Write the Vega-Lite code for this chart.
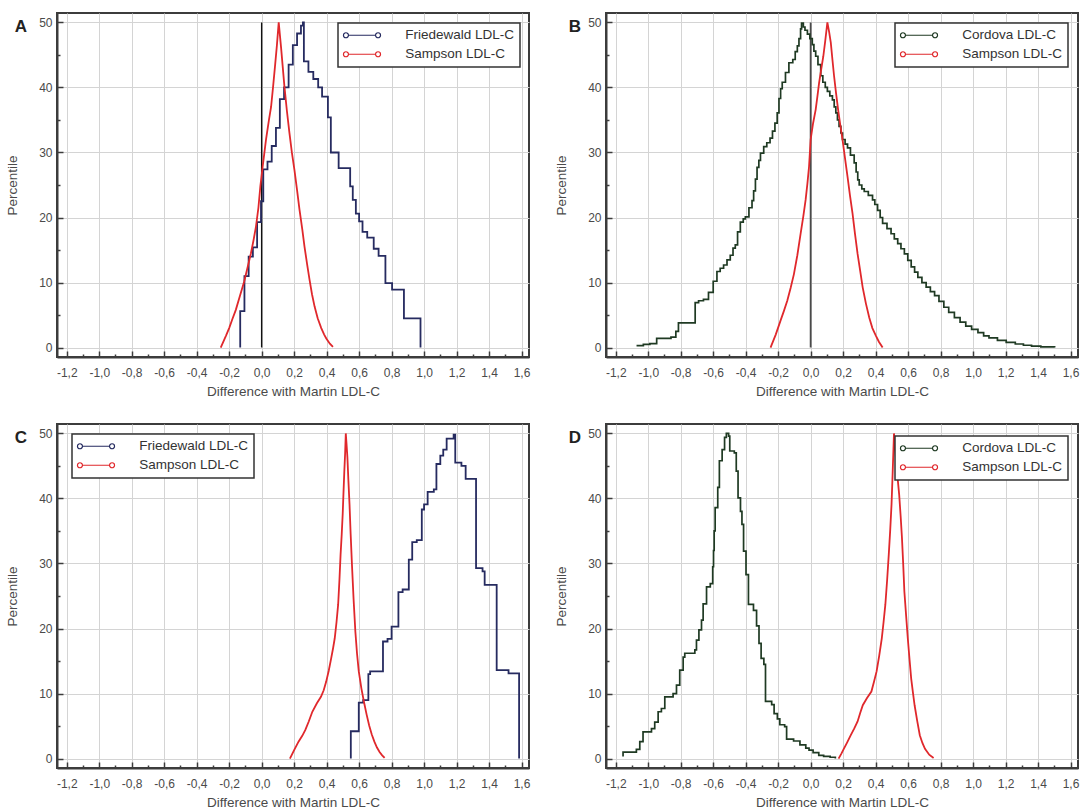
{
  "$schema": "https://vega.github.io/schema/vega-lite/v6.json",
  "background": "white",
  "padding": {"left": 4, "top": 12, "right": 0, "bottom": 0},
  "columns": 2,
  "bounds": "flush",
  "spacing": {"row": 67, "column": 77},
  "datasets": {
    "A_Friedewald": [
      {"Method": "Friedewald LDL-C", "Difference": -0.132, "Percentile": 0},
      {"Method": "Friedewald LDL-C", "Difference": -0.132, "Percentile": 5.6},
      {"Method": "Friedewald LDL-C", "Difference": -0.106, "Percentile": 11.0},
      {"Method": "Friedewald LDL-C", "Difference": -0.080, "Percentile": 14.0},
      {"Method": "Friedewald LDL-C", "Difference": -0.054, "Percentile": 15.4},
      {"Method": "Friedewald LDL-C", "Difference": -0.028, "Percentile": 19.3},
      {"Method": "Friedewald LDL-C", "Difference": -0.004, "Percentile": 22.5},
      {"Method": "Friedewald LDL-C", "Difference": 0.010, "Percentile": 27.4},
      {"Method": "Friedewald LDL-C", "Difference": 0.036, "Percentile": 28.6},
      {"Method": "Friedewald LDL-C", "Difference": 0.062, "Percentile": 31.0},
      {"Method": "Friedewald LDL-C", "Difference": 0.088, "Percentile": 33.8},
      {"Method": "Friedewald LDL-C", "Difference": 0.112, "Percentile": 38.2},
      {"Method": "Friedewald LDL-C", "Difference": 0.138, "Percentile": 40.0},
      {"Method": "Friedewald LDL-C", "Difference": 0.166, "Percentile": 43.5},
      {"Method": "Friedewald LDL-C", "Difference": 0.192, "Percentile": 46.5},
      {"Method": "Friedewald LDL-C", "Difference": 0.218, "Percentile": 48.3},
      {"Method": "Friedewald LDL-C", "Difference": 0.242, "Percentile": 49.5},
      {"Method": "Friedewald LDL-C", "Difference": 0.254, "Percentile": 50.0},
      {"Method": "Friedewald LDL-C", "Difference": 0.260, "Percentile": 44.0},
      {"Method": "Friedewald LDL-C", "Difference": 0.288, "Percentile": 42.4},
      {"Method": "Friedewald LDL-C", "Difference": 0.318, "Percentile": 41.3},
      {"Method": "Friedewald LDL-C", "Difference": 0.348, "Percentile": 40.0},
      {"Method": "Friedewald LDL-C", "Difference": 0.372, "Percentile": 38.6},
      {"Method": "Friedewald LDL-C", "Difference": 0.408, "Percentile": 35.4},
      {"Method": "Friedewald LDL-C", "Difference": 0.426, "Percentile": 30.0},
      {"Method": "Friedewald LDL-C", "Difference": 0.474, "Percentile": 27.6},
      {"Method": "Friedewald LDL-C", "Difference": 0.545, "Percentile": 24.8},
      {"Method": "Friedewald LDL-C", "Difference": 0.561, "Percentile": 22.7},
      {"Method": "Friedewald LDL-C", "Difference": 0.580, "Percentile": 20.6},
      {"Method": "Friedewald LDL-C", "Difference": 0.600, "Percentile": 19.4},
      {"Method": "Friedewald LDL-C", "Difference": 0.621, "Percentile": 17.8},
      {"Method": "Friedewald LDL-C", "Difference": 0.650, "Percentile": 16.9},
      {"Method": "Friedewald LDL-C", "Difference": 0.690, "Percentile": 15.2},
      {"Method": "Friedewald LDL-C", "Difference": 0.720, "Percentile": 14.1},
      {"Method": "Friedewald LDL-C", "Difference": 0.762, "Percentile": 9.9},
      {"Method": "Friedewald LDL-C", "Difference": 0.803, "Percentile": 8.9},
      {"Method": "Friedewald LDL-C", "Difference": 0.876, "Percentile": 4.5},
      {"Method": "Friedewald LDL-C", "Difference": 0.978, "Percentile": 0}
    ],
    "A_Sampson": [
      {"Method": "Sampson LDL-C", "Difference": -0.252, "Percentile": 0},
      {"Method": "Sampson LDL-C", "Difference": -0.22, "Percentile": 1.8},
      {"Method": "Sampson LDL-C", "Difference": -0.2, "Percentile": 3.0},
      {"Method": "Sampson LDL-C", "Difference": -0.18, "Percentile": 4.4},
      {"Method": "Sampson LDL-C", "Difference": -0.159, "Percentile": 5.8},
      {"Method": "Sampson LDL-C", "Difference": -0.133, "Percentile": 8.0},
      {"Method": "Sampson LDL-C", "Difference": -0.107, "Percentile": 10.2},
      {"Method": "Sampson LDL-C", "Difference": -0.085, "Percentile": 12.5},
      {"Method": "Sampson LDL-C", "Difference": -0.066, "Percentile": 14.5},
      {"Method": "Sampson LDL-C", "Difference": -0.05, "Percentile": 16.5},
      {"Method": "Sampson LDL-C", "Difference": -0.035, "Percentile": 18.6},
      {"Method": "Sampson LDL-C", "Difference": -0.02, "Percentile": 21.5},
      {"Method": "Sampson LDL-C", "Difference": -0.008, "Percentile": 24.8},
      {"Method": "Sampson LDL-C", "Difference": 0.006, "Percentile": 27.8},
      {"Method": "Sampson LDL-C", "Difference": 0.027, "Percentile": 32.0},
      {"Method": "Sampson LDL-C", "Difference": 0.045, "Percentile": 35.0},
      {"Method": "Sampson LDL-C", "Difference": 0.058, "Percentile": 37.0},
      {"Method": "Sampson LDL-C", "Difference": 0.07, "Percentile": 40.0},
      {"Method": "Sampson LDL-C", "Difference": 0.082, "Percentile": 43.2},
      {"Method": "Sampson LDL-C", "Difference": 0.094, "Percentile": 46.5},
      {"Method": "Sampson LDL-C", "Difference": 0.105, "Percentile": 50.0},
      {"Method": "Sampson LDL-C", "Difference": 0.12, "Percentile": 46.0},
      {"Method": "Sampson LDL-C", "Difference": 0.14, "Percentile": 40.2},
      {"Method": "Sampson LDL-C", "Difference": 0.155, "Percentile": 36.5},
      {"Method": "Sampson LDL-C", "Difference": 0.171, "Percentile": 33.0},
      {"Method": "Sampson LDL-C", "Difference": 0.186, "Percentile": 30.0},
      {"Method": "Sampson LDL-C", "Difference": 0.202, "Percentile": 27.3},
      {"Method": "Sampson LDL-C", "Difference": 0.218, "Percentile": 24.2},
      {"Method": "Sampson LDL-C", "Difference": 0.233, "Percentile": 21.2},
      {"Method": "Sampson LDL-C", "Difference": 0.25, "Percentile": 18.2},
      {"Method": "Sampson LDL-C", "Difference": 0.264, "Percentile": 15.5},
      {"Method": "Sampson LDL-C", "Difference": 0.28, "Percentile": 12.8},
      {"Method": "Sampson LDL-C", "Difference": 0.295, "Percentile": 10.4},
      {"Method": "Sampson LDL-C", "Difference": 0.31, "Percentile": 8.2},
      {"Method": "Sampson LDL-C", "Difference": 0.326, "Percentile": 6.3},
      {"Method": "Sampson LDL-C", "Difference": 0.345, "Percentile": 4.5},
      {"Method": "Sampson LDL-C", "Difference": 0.367, "Percentile": 3.0},
      {"Method": "Sampson LDL-C", "Difference": 0.385, "Percentile": 2.0},
      {"Method": "Sampson LDL-C", "Difference": 0.398, "Percentile": 1.4},
      {"Method": "Sampson LDL-C", "Difference": 0.42, "Percentile": 0.6},
      {"Method": "Sampson LDL-C", "Difference": 0.439, "Percentile": 0.1}
    ],
    "B_Cordova": [
      {"Method": "Cordova LDL-C", "Difference": -1.072, "Percentile": 0.3},
      {"Method": "Cordova LDL-C", "Difference": -1.03, "Percentile": 0.5},
      {"Method": "Cordova LDL-C", "Difference": -0.99, "Percentile": 0.6},
      {"Method": "Cordova LDL-C", "Difference": -0.948, "Percentile": 1.4},
      {"Method": "Cordova LDL-C", "Difference": -0.86, "Percentile": 1.6},
      {"Method": "Cordova LDL-C", "Difference": -0.83, "Percentile": 2.5},
      {"Method": "Cordova LDL-C", "Difference": -0.814, "Percentile": 3.8},
      {"Method": "Cordova LDL-C", "Difference": -0.711, "Percentile": 6.9},
      {"Method": "Cordova LDL-C", "Difference": -0.69, "Percentile": 7.2},
      {"Method": "Cordova LDL-C", "Difference": -0.66, "Percentile": 7.4},
      {"Method": "Cordova LDL-C", "Difference": -0.629, "Percentile": 8.5},
      {"Method": "Cordova LDL-C", "Difference": -0.6, "Percentile": 10.2},
      {"Method": "Cordova LDL-C", "Difference": -0.577, "Percentile": 11.7},
      {"Method": "Cordova LDL-C", "Difference": -0.557, "Percentile": 12.2},
      {"Method": "Cordova LDL-C", "Difference": -0.536, "Percentile": 12.7},
      {"Method": "Cordova LDL-C", "Difference": -0.515, "Percentile": 13.5},
      {"Method": "Cordova LDL-C", "Difference": -0.495, "Percentile": 14.2},
      {"Method": "Cordova LDL-C", "Difference": -0.478, "Percentile": 15.3},
      {"Method": "Cordova LDL-C", "Difference": -0.464, "Percentile": 15.8},
      {"Method": "Cordova LDL-C", "Difference": -0.45, "Percentile": 17.8},
      {"Method": "Cordova LDL-C", "Difference": -0.433, "Percentile": 19.3},
      {"Method": "Cordova LDL-C", "Difference": -0.415, "Percentile": 19.8},
      {"Method": "Cordova LDL-C", "Difference": -0.402, "Percentile": 20.1},
      {"Method": "Cordova LDL-C", "Difference": -0.38, "Percentile": 21.5},
      {"Method": "Cordova LDL-C", "Difference": -0.361, "Percentile": 22.6},
      {"Method": "Cordova LDL-C", "Difference": -0.351, "Percentile": 24.1},
      {"Method": "Cordova LDL-C", "Difference": -0.34, "Percentile": 25.9},
      {"Method": "Cordova LDL-C", "Difference": -0.33, "Percentile": 27.7},
      {"Method": "Cordova LDL-C", "Difference": -0.319, "Percentile": 28.8},
      {"Method": "Cordova LDL-C", "Difference": -0.309, "Percentile": 29.9},
      {"Method": "Cordova LDL-C", "Difference": -0.289, "Percentile": 30.9},
      {"Method": "Cordova LDL-C", "Difference": -0.27, "Percentile": 31.5},
      {"Method": "Cordova LDL-C", "Difference": -0.25, "Percentile": 32.2},
      {"Method": "Cordova LDL-C", "Difference": -0.235, "Percentile": 33.3},
      {"Method": "Cordova LDL-C", "Difference": -0.22, "Percentile": 34.5},
      {"Method": "Cordova LDL-C", "Difference": -0.206, "Percentile": 36.1},
      {"Method": "Cordova LDL-C", "Difference": -0.195, "Percentile": 38.3},
      {"Method": "Cordova LDL-C", "Difference": -0.185, "Percentile": 39.8},
      {"Method": "Cordova LDL-C", "Difference": -0.175, "Percentile": 40.8},
      {"Method": "Cordova LDL-C", "Difference": -0.155, "Percentile": 42.3},
      {"Method": "Cordova LDL-C", "Difference": -0.134, "Percentile": 43.8},
      {"Method": "Cordova LDL-C", "Difference": -0.11, "Percentile": 44.3},
      {"Method": "Cordova LDL-C", "Difference": -0.095, "Percentile": 45.5},
      {"Method": "Cordova LDL-C", "Difference": -0.082, "Percentile": 46.4},
      {"Method": "Cordova LDL-C", "Difference": -0.072, "Percentile": 47.5},
      {"Method": "Cordova LDL-C", "Difference": -0.062, "Percentile": 49.0},
      {"Method": "Cordova LDL-C", "Difference": -0.056, "Percentile": 49.9},
      {"Method": "Cordova LDL-C", "Difference": -0.045, "Percentile": 49.3},
      {"Method": "Cordova LDL-C", "Difference": -0.035, "Percentile": 48.8},
      {"Method": "Cordova LDL-C", "Difference": -0.02, "Percentile": 48.2},
      {"Method": "Cordova LDL-C", "Difference": -0.005, "Percentile": 47.5},
      {"Method": "Cordova LDL-C", "Difference": 0.01, "Percentile": 46.6},
      {"Method": "Cordova LDL-C", "Difference": 0.02, "Percentile": 45.6},
      {"Method": "Cordova LDL-C", "Difference": 0.031, "Percentile": 44.8},
      {"Method": "Cordova LDL-C", "Difference": 0.045, "Percentile": 43.5},
      {"Method": "Cordova LDL-C", "Difference": 0.062, "Percentile": 41.8},
      {"Method": "Cordova LDL-C", "Difference": 0.075, "Percentile": 40.8},
      {"Method": "Cordova LDL-C", "Difference": 0.09, "Percentile": 40.0},
      {"Method": "Cordova LDL-C", "Difference": 0.103, "Percentile": 39.4},
      {"Method": "Cordova LDL-C", "Difference": 0.118, "Percentile": 38.7},
      {"Method": "Cordova LDL-C", "Difference": 0.134, "Percentile": 38.1},
      {"Method": "Cordova LDL-C", "Difference": 0.145, "Percentile": 37.0},
      {"Method": "Cordova LDL-C", "Difference": 0.155, "Percentile": 36.1},
      {"Method": "Cordova LDL-C", "Difference": 0.165, "Percentile": 35.0},
      {"Method": "Cordova LDL-C", "Difference": 0.175, "Percentile": 34.0},
      {"Method": "Cordova LDL-C", "Difference": 0.186, "Percentile": 33.0},
      {"Method": "Cordova LDL-C", "Difference": 0.196, "Percentile": 32.0},
      {"Method": "Cordova LDL-C", "Difference": 0.212, "Percentile": 31.3},
      {"Method": "Cordova LDL-C", "Difference": 0.227, "Percentile": 30.7},
      {"Method": "Cordova LDL-C", "Difference": 0.245, "Percentile": 29.6},
      {"Method": "Cordova LDL-C", "Difference": 0.268, "Percentile": 28.4},
      {"Method": "Cordova LDL-C", "Difference": 0.28, "Percentile": 27.0},
      {"Method": "Cordova LDL-C", "Difference": 0.29, "Percentile": 25.8},
      {"Method": "Cordova LDL-C", "Difference": 0.299, "Percentile": 25.0},
      {"Method": "Cordova LDL-C", "Difference": 0.315, "Percentile": 24.4},
      {"Method": "Cordova LDL-C", "Difference": 0.33, "Percentile": 24.0},
      {"Method": "Cordova LDL-C", "Difference": 0.355, "Percentile": 23.4},
      {"Method": "Cordova LDL-C", "Difference": 0.381, "Percentile": 22.7},
      {"Method": "Cordova LDL-C", "Difference": 0.395, "Percentile": 22.0},
      {"Method": "Cordova LDL-C", "Difference": 0.412, "Percentile": 21.1},
      {"Method": "Cordova LDL-C", "Difference": 0.428, "Percentile": 20.0},
      {"Method": "Cordova LDL-C", "Difference": 0.443, "Percentile": 19.1},
      {"Method": "Cordova LDL-C", "Difference": 0.47, "Percentile": 18.3},
      {"Method": "Cordova LDL-C", "Difference": 0.495, "Percentile": 17.5},
      {"Method": "Cordova LDL-C", "Difference": 0.515, "Percentile": 16.7},
      {"Method": "Cordova LDL-C", "Difference": 0.536, "Percentile": 16.0},
      {"Method": "Cordova LDL-C", "Difference": 0.556, "Percentile": 15.2},
      {"Method": "Cordova LDL-C", "Difference": 0.577, "Percentile": 14.4},
      {"Method": "Cordova LDL-C", "Difference": 0.598, "Percentile": 13.4},
      {"Method": "Cordova LDL-C", "Difference": 0.619, "Percentile": 12.4},
      {"Method": "Cordova LDL-C", "Difference": 0.64, "Percentile": 11.6},
      {"Method": "Cordova LDL-C", "Difference": 0.66, "Percentile": 10.8},
      {"Method": "Cordova LDL-C", "Difference": 0.685, "Percentile": 10.0},
      {"Method": "Cordova LDL-C", "Difference": 0.711, "Percentile": 9.3},
      {"Method": "Cordova LDL-C", "Difference": 0.737, "Percentile": 8.6},
      {"Method": "Cordova LDL-C", "Difference": 0.763, "Percentile": 8.0},
      {"Method": "Cordova LDL-C", "Difference": 0.79, "Percentile": 7.1},
      {"Method": "Cordova LDL-C", "Difference": 0.82, "Percentile": 6.2},
      {"Method": "Cordova LDL-C", "Difference": 0.85, "Percentile": 5.4},
      {"Method": "Cordova LDL-C", "Difference": 0.885, "Percentile": 4.6},
      {"Method": "Cordova LDL-C", "Difference": 0.92, "Percentile": 3.9},
      {"Method": "Cordova LDL-C", "Difference": 0.955, "Percentile": 3.3},
      {"Method": "Cordova LDL-C", "Difference": 0.991, "Percentile": 2.8},
      {"Method": "Cordova LDL-C", "Difference": 1.03, "Percentile": 2.3},
      {"Method": "Cordova LDL-C", "Difference": 1.065, "Percentile": 1.8},
      {"Method": "Cordova LDL-C", "Difference": 1.098, "Percentile": 1.5},
      {"Method": "Cordova LDL-C", "Difference": 1.15, "Percentile": 1.1},
      {"Method": "Cordova LDL-C", "Difference": 1.204, "Percentile": 0.8},
      {"Method": "Cordova LDL-C", "Difference": 1.26, "Percentile": 0.55},
      {"Method": "Cordova LDL-C", "Difference": 1.31, "Percentile": 0.36},
      {"Method": "Cordova LDL-C", "Difference": 1.36, "Percentile": 0.22},
      {"Method": "Cordova LDL-C", "Difference": 1.417, "Percentile": 0.1},
      {"Method": "Cordova LDL-C", "Difference": 1.502, "Percentile": 0}
    ],
    "B_Sampson": [
      {"Method": "Sampson LDL-C", "Difference": -0.247, "Percentile": 0},
      {"Method": "Sampson LDL-C", "Difference": -0.215, "Percentile": 2.0},
      {"Method": "Sampson LDL-C", "Difference": -0.186, "Percentile": 4.1},
      {"Method": "Sampson LDL-C", "Difference": -0.165, "Percentile": 5.6},
      {"Method": "Sampson LDL-C", "Difference": -0.144, "Percentile": 7.2},
      {"Method": "Sampson LDL-C", "Difference": -0.123, "Percentile": 9.2},
      {"Method": "Sampson LDL-C", "Difference": -0.103, "Percentile": 11.3},
      {"Method": "Sampson LDL-C", "Difference": -0.082, "Percentile": 14.2},
      {"Method": "Sampson LDL-C", "Difference": -0.062, "Percentile": 17.5},
      {"Method": "Sampson LDL-C", "Difference": -0.045, "Percentile": 20.2},
      {"Method": "Sampson LDL-C", "Difference": -0.031, "Percentile": 22.7},
      {"Method": "Sampson LDL-C", "Difference": -0.02, "Percentile": 25.2},
      {"Method": "Sampson LDL-C", "Difference": -0.01, "Percentile": 27.8},
      {"Method": "Sampson LDL-C", "Difference": 0.0, "Percentile": 32.0},
      {"Method": "Sampson LDL-C", "Difference": 0.015, "Percentile": 34.5},
      {"Method": "Sampson LDL-C", "Difference": 0.031, "Percentile": 36.6},
      {"Method": "Sampson LDL-C", "Difference": 0.042, "Percentile": 38.7},
      {"Method": "Sampson LDL-C", "Difference": 0.052, "Percentile": 40.7},
      {"Method": "Sampson LDL-C", "Difference": 0.065, "Percentile": 42.8},
      {"Method": "Sampson LDL-C", "Difference": 0.078, "Percentile": 44.8},
      {"Method": "Sampson LDL-C", "Difference": 0.09, "Percentile": 47.2},
      {"Method": "Sampson LDL-C", "Difference": 0.103, "Percentile": 50.0},
      {"Method": "Sampson LDL-C", "Difference": 0.114, "Percentile": 48.5},
      {"Method": "Sampson LDL-C", "Difference": 0.124, "Percentile": 46.9},
      {"Method": "Sampson LDL-C", "Difference": 0.134, "Percentile": 44.3},
      {"Method": "Sampson LDL-C", "Difference": 0.144, "Percentile": 41.8},
      {"Method": "Sampson LDL-C", "Difference": 0.156, "Percentile": 39.2},
      {"Method": "Sampson LDL-C", "Difference": 0.169, "Percentile": 36.6},
      {"Method": "Sampson LDL-C", "Difference": 0.182, "Percentile": 34.3},
      {"Method": "Sampson LDL-C", "Difference": 0.196, "Percentile": 32.0},
      {"Method": "Sampson LDL-C", "Difference": 0.211, "Percentile": 29.2},
      {"Method": "Sampson LDL-C", "Difference": 0.227, "Percentile": 26.3},
      {"Method": "Sampson LDL-C", "Difference": 0.242, "Percentile": 23.4},
      {"Method": "Sampson LDL-C", "Difference": 0.258, "Percentile": 20.6},
      {"Method": "Sampson LDL-C", "Difference": 0.273, "Percentile": 17.5},
      {"Method": "Sampson LDL-C", "Difference": 0.289, "Percentile": 14.4},
      {"Method": "Sampson LDL-C", "Difference": 0.305, "Percentile": 11.8},
      {"Method": "Sampson LDL-C", "Difference": 0.32, "Percentile": 9.3},
      {"Method": "Sampson LDL-C", "Difference": 0.34, "Percentile": 6.8},
      {"Method": "Sampson LDL-C", "Difference": 0.361, "Percentile": 4.6},
      {"Method": "Sampson LDL-C", "Difference": 0.38, "Percentile": 3.0},
      {"Method": "Sampson LDL-C", "Difference": 0.402, "Percentile": 1.8},
      {"Method": "Sampson LDL-C", "Difference": 0.42, "Percentile": 0.9},
      {"Method": "Sampson LDL-C", "Difference": 0.443, "Percentile": 0}
    ],
    "C_Friedewald": [
      {"Method": "Friedewald LDL-C", "Difference": 0.549, "Percentile": 0},
      {"Method": "Friedewald LDL-C", "Difference": 0.549, "Percentile": 4.2},
      {"Method": "Friedewald LDL-C", "Difference": 0.598, "Percentile": 8.6},
      {"Method": "Friedewald LDL-C", "Difference": 0.625, "Percentile": 9.0},
      {"Method": "Friedewald LDL-C", "Difference": 0.657, "Percentile": 13.0},
      {"Method": "Friedewald LDL-C", "Difference": 0.668, "Percentile": 13.4},
      {"Method": "Friedewald LDL-C", "Difference": 0.747, "Percentile": 18.0},
      {"Method": "Friedewald LDL-C", "Difference": 0.775, "Percentile": 18.4},
      {"Method": "Friedewald LDL-C", "Difference": 0.80, "Percentile": 20.3},
      {"Method": "Friedewald LDL-C", "Difference": 0.842, "Percentile": 25.6},
      {"Method": "Friedewald LDL-C", "Difference": 0.868, "Percentile": 26.0},
      {"Method": "Friedewald LDL-C", "Difference": 0.906, "Percentile": 30.6},
      {"Method": "Friedewald LDL-C", "Difference": 0.927, "Percentile": 33.3},
      {"Method": "Friedewald LDL-C", "Difference": 0.955, "Percentile": 33.6},
      {"Method": "Friedewald LDL-C", "Difference": 0.986, "Percentile": 38.3},
      {"Method": "Friedewald LDL-C", "Difference": 1.0, "Percentile": 39.1},
      {"Method": "Friedewald LDL-C", "Difference": 1.022, "Percentile": 41.0},
      {"Method": "Friedewald LDL-C", "Difference": 1.06, "Percentile": 41.4},
      {"Method": "Friedewald LDL-C", "Difference": 1.076, "Percentile": 45.3},
      {"Method": "Friedewald LDL-C", "Difference": 1.1, "Percentile": 46.6},
      {"Method": "Friedewald LDL-C", "Difference": 1.118, "Percentile": 47.5},
      {"Method": "Friedewald LDL-C", "Difference": 1.139, "Percentile": 49.2},
      {"Method": "Friedewald LDL-C", "Difference": 1.182, "Percentile": 49.8},
      {"Method": "Friedewald LDL-C", "Difference": 1.192, "Percentile": 45.5},
      {"Method": "Friedewald LDL-C", "Difference": 1.23, "Percentile": 45.0},
      {"Method": "Friedewald LDL-C", "Difference": 1.256, "Percentile": 43.0},
      {"Method": "Friedewald LDL-C", "Difference": 1.32, "Percentile": 29.3},
      {"Method": "Friedewald LDL-C", "Difference": 1.36, "Percentile": 28.8},
      {"Method": "Friedewald LDL-C", "Difference": 1.373, "Percentile": 26.7},
      {"Method": "Friedewald LDL-C", "Difference": 1.447, "Percentile": 13.6},
      {"Method": "Friedewald LDL-C", "Difference": 1.52, "Percentile": 13.1},
      {"Method": "Friedewald LDL-C", "Difference": 1.585, "Percentile": 0}
    ],
    "C_Sampson": [
      {"Method": "Sampson LDL-C", "Difference": 0.174, "Percentile": 0},
      {"Method": "Sampson LDL-C", "Difference": 0.2, "Percentile": 1.3},
      {"Method": "Sampson LDL-C", "Difference": 0.227, "Percentile": 2.6},
      {"Method": "Sampson LDL-C", "Difference": 0.25, "Percentile": 3.5},
      {"Method": "Sampson LDL-C", "Difference": 0.269, "Percentile": 4.4},
      {"Method": "Sampson LDL-C", "Difference": 0.29, "Percentile": 5.7},
      {"Method": "Sampson LDL-C", "Difference": 0.312, "Percentile": 7.2},
      {"Method": "Sampson LDL-C", "Difference": 0.34, "Percentile": 8.5},
      {"Method": "Sampson LDL-C", "Difference": 0.365, "Percentile": 9.5},
      {"Method": "Sampson LDL-C", "Difference": 0.382, "Percentile": 10.5},
      {"Method": "Sampson LDL-C", "Difference": 0.397, "Percentile": 11.8},
      {"Method": "Sampson LDL-C", "Difference": 0.413, "Percentile": 13.5},
      {"Method": "Sampson LDL-C", "Difference": 0.428, "Percentile": 15.4},
      {"Method": "Sampson LDL-C", "Difference": 0.44, "Percentile": 17.0},
      {"Method": "Sampson LDL-C", "Difference": 0.45, "Percentile": 18.5},
      {"Method": "Sampson LDL-C", "Difference": 0.461, "Percentile": 21.0},
      {"Method": "Sampson LDL-C", "Difference": 0.471, "Percentile": 23.7},
      {"Method": "Sampson LDL-C", "Difference": 0.479, "Percentile": 27.5},
      {"Method": "Sampson LDL-C", "Difference": 0.486, "Percentile": 31.4},
      {"Method": "Sampson LDL-C", "Difference": 0.493, "Percentile": 34.5},
      {"Method": "Sampson LDL-C", "Difference": 0.499, "Percentile": 37.6},
      {"Method": "Sampson LDL-C", "Difference": 0.504, "Percentile": 41.0},
      {"Method": "Sampson LDL-C", "Difference": 0.509, "Percentile": 44.2},
      {"Method": "Sampson LDL-C", "Difference": 0.514, "Percentile": 47.0},
      {"Method": "Sampson LDL-C", "Difference": 0.518, "Percentile": 50.0},
      {"Method": "Sampson LDL-C", "Difference": 0.523, "Percentile": 48.2},
      {"Method": "Sampson LDL-C", "Difference": 0.528, "Percentile": 46.3},
      {"Method": "Sampson LDL-C", "Difference": 0.534, "Percentile": 42.8},
      {"Method": "Sampson LDL-C", "Difference": 0.541, "Percentile": 39.1},
      {"Method": "Sampson LDL-C", "Difference": 0.548, "Percentile": 34.5},
      {"Method": "Sampson LDL-C", "Difference": 0.556, "Percentile": 29.8},
      {"Method": "Sampson LDL-C", "Difference": 0.566, "Percentile": 24.5},
      {"Method": "Sampson LDL-C", "Difference": 0.577, "Percentile": 19.5},
      {"Method": "Sampson LDL-C", "Difference": 0.587, "Percentile": 16.2},
      {"Method": "Sampson LDL-C", "Difference": 0.598, "Percentile": 13.4},
      {"Method": "Sampson LDL-C", "Difference": 0.614, "Percentile": 10.8},
      {"Method": "Sampson LDL-C", "Difference": 0.63, "Percentile": 8.7},
      {"Method": "Sampson LDL-C", "Difference": 0.646, "Percentile": 6.8},
      {"Method": "Sampson LDL-C", "Difference": 0.662, "Percentile": 5.1},
      {"Method": "Sampson LDL-C", "Difference": 0.678, "Percentile": 3.7},
      {"Method": "Sampson LDL-C", "Difference": 0.694, "Percentile": 2.6},
      {"Method": "Sampson LDL-C", "Difference": 0.71, "Percentile": 1.7},
      {"Method": "Sampson LDL-C", "Difference": 0.726, "Percentile": 1.0},
      {"Method": "Sampson LDL-C", "Difference": 0.742, "Percentile": 0.5},
      {"Method": "Sampson LDL-C", "Difference": 0.757, "Percentile": 0.1}
    ],
    "D_Cordova": [
      {"Method": "Cordova LDL-C", "Difference": -1.155, "Percentile": 0.3},
      {"Method": "Cordova LDL-C", "Difference": -1.155, "Percentile": 1.0},
      {"Method": "Cordova LDL-C", "Difference": -1.073, "Percentile": 1.4},
      {"Method": "Cordova LDL-C", "Difference": -1.052, "Percentile": 2.6},
      {"Method": "Cordova LDL-C", "Difference": -1.032, "Percentile": 4.1},
      {"Method": "Cordova LDL-C", "Difference": -0.98, "Percentile": 4.6},
      {"Method": "Cordova LDL-C", "Difference": -0.96, "Percentile": 5.6},
      {"Method": "Cordova LDL-C", "Difference": -0.939, "Percentile": 7.2},
      {"Method": "Cordova LDL-C", "Difference": -0.919, "Percentile": 7.7},
      {"Method": "Cordova LDL-C", "Difference": -0.898, "Percentile": 9.5},
      {"Method": "Cordova LDL-C", "Difference": -0.847, "Percentile": 10.0},
      {"Method": "Cordova LDL-C", "Difference": -0.826, "Percentile": 11.3},
      {"Method": "Cordova LDL-C", "Difference": -0.806, "Percentile": 13.6},
      {"Method": "Cordova LDL-C", "Difference": -0.785, "Percentile": 15.6},
      {"Method": "Cordova LDL-C", "Difference": -0.775, "Percentile": 16.2},
      {"Method": "Cordova LDL-C", "Difference": -0.713, "Percentile": 16.7},
      {"Method": "Cordova LDL-C", "Difference": -0.703, "Percentile": 18.2},
      {"Method": "Cordova LDL-C", "Difference": -0.688, "Percentile": 19.8},
      {"Method": "Cordova LDL-C", "Difference": -0.672, "Percentile": 21.3},
      {"Method": "Cordova LDL-C", "Difference": -0.662, "Percentile": 23.8},
      {"Method": "Cordova LDL-C", "Difference": -0.641, "Percentile": 26.4},
      {"Method": "Cordova LDL-C", "Difference": -0.618, "Percentile": 26.9},
      {"Method": "Cordova LDL-C", "Difference": -0.603, "Percentile": 29.5},
      {"Method": "Cordova LDL-C", "Difference": -0.598, "Percentile": 32.0},
      {"Method": "Cordova LDL-C", "Difference": -0.594, "Percentile": 35.0},
      {"Method": "Cordova LDL-C", "Difference": -0.588, "Percentile": 38.6},
      {"Method": "Cordova LDL-C", "Difference": -0.572, "Percentile": 41.7},
      {"Method": "Cordova LDL-C", "Difference": -0.562, "Percentile": 45.8},
      {"Method": "Cordova LDL-C", "Difference": -0.545, "Percentile": 47.5},
      {"Method": "Cordova LDL-C", "Difference": -0.53, "Percentile": 49.4},
      {"Method": "Cordova LDL-C", "Difference": -0.519, "Percentile": 50.0},
      {"Method": "Cordova LDL-C", "Difference": -0.505, "Percentile": 49.6},
      {"Method": "Cordova LDL-C", "Difference": -0.498, "Percentile": 47.3},
      {"Method": "Cordova LDL-C", "Difference": -0.47, "Percentile": 47.0},
      {"Method": "Cordova LDL-C", "Difference": -0.458, "Percentile": 44.2},
      {"Method": "Cordova LDL-C", "Difference": -0.447, "Percentile": 40.1},
      {"Method": "Cordova LDL-C", "Difference": -0.432, "Percentile": 38.0},
      {"Method": "Cordova LDL-C", "Difference": -0.423, "Percentile": 36.0},
      {"Method": "Cordova LDL-C", "Difference": -0.413, "Percentile": 31.9},
      {"Method": "Cordova LDL-C", "Difference": -0.398, "Percentile": 28.3},
      {"Method": "Cordova LDL-C", "Difference": -0.383, "Percentile": 23.7},
      {"Method": "Cordova LDL-C", "Difference": -0.352, "Percentile": 22.8},
      {"Method": "Cordova LDL-C", "Difference": -0.333, "Percentile": 20.4},
      {"Method": "Cordova LDL-C", "Difference": -0.318, "Percentile": 17.7},
      {"Method": "Cordova LDL-C", "Difference": -0.305, "Percentile": 15.4},
      {"Method": "Cordova LDL-C", "Difference": -0.288, "Percentile": 14.5},
      {"Method": "Cordova LDL-C", "Difference": -0.278, "Percentile": 8.8},
      {"Method": "Cordova LDL-C", "Difference": -0.24, "Percentile": 8.3},
      {"Method": "Cordova LDL-C", "Difference": -0.225, "Percentile": 6.9},
      {"Method": "Cordova LDL-C", "Difference": -0.205, "Percentile": 6.1},
      {"Method": "Cordova LDL-C", "Difference": -0.19, "Percentile": 5.2},
      {"Method": "Cordova LDL-C", "Difference": -0.16, "Percentile": 4.9},
      {"Method": "Cordova LDL-C", "Difference": -0.148, "Percentile": 3.0},
      {"Method": "Cordova LDL-C", "Difference": -0.105, "Percentile": 2.7},
      {"Method": "Cordova LDL-C", "Difference": -0.066, "Percentile": 2.1},
      {"Method": "Cordova LDL-C", "Difference": -0.03, "Percentile": 1.6},
      {"Method": "Cordova LDL-C", "Difference": -0.01, "Percentile": 1.3},
      {"Method": "Cordova LDL-C", "Difference": 0.015, "Percentile": 0.9},
      {"Method": "Cordova LDL-C", "Difference": 0.05, "Percentile": 0.5},
      {"Method": "Cordova LDL-C", "Difference": 0.08, "Percentile": 0.35},
      {"Method": "Cordova LDL-C", "Difference": 0.12, "Percentile": 0.2},
      {"Method": "Cordova LDL-C", "Difference": 0.152, "Percentile": 0}
    ],
    "D_Sampson": [
      {"Method": "Sampson LDL-C", "Difference": 0.172, "Percentile": 0},
      {"Method": "Sampson LDL-C", "Difference": 0.19, "Percentile": 0.8},
      {"Method": "Sampson LDL-C", "Difference": 0.204, "Percentile": 1.5},
      {"Method": "Sampson LDL-C", "Difference": 0.225, "Percentile": 2.5},
      {"Method": "Sampson LDL-C", "Difference": 0.247, "Percentile": 3.6},
      {"Method": "Sampson LDL-C", "Difference": 0.268, "Percentile": 4.6},
      {"Method": "Sampson LDL-C", "Difference": 0.289, "Percentile": 5.7},
      {"Method": "Sampson LDL-C", "Difference": 0.305, "Percentile": 7.0},
      {"Method": "Sampson LDL-C", "Difference": 0.321, "Percentile": 8.2},
      {"Method": "Sampson LDL-C", "Difference": 0.347, "Percentile": 9.3},
      {"Method": "Sampson LDL-C", "Difference": 0.374, "Percentile": 10.3},
      {"Method": "Sampson LDL-C", "Difference": 0.39, "Percentile": 11.8},
      {"Method": "Sampson LDL-C", "Difference": 0.406, "Percentile": 13.4},
      {"Method": "Sampson LDL-C", "Difference": 0.422, "Percentile": 15.8},
      {"Method": "Sampson LDL-C", "Difference": 0.438, "Percentile": 18.5},
      {"Method": "Sampson LDL-C", "Difference": 0.449, "Percentile": 21.0},
      {"Method": "Sampson LDL-C", "Difference": 0.46, "Percentile": 23.7},
      {"Method": "Sampson LDL-C", "Difference": 0.471, "Percentile": 27.5},
      {"Method": "Sampson LDL-C", "Difference": 0.481, "Percentile": 31.4},
      {"Method": "Sampson LDL-C", "Difference": 0.49, "Percentile": 35.2},
      {"Method": "Sampson LDL-C", "Difference": 0.498, "Percentile": 39.1},
      {"Method": "Sampson LDL-C", "Difference": 0.505, "Percentile": 44.0},
      {"Method": "Sampson LDL-C", "Difference": 0.513, "Percentile": 50.0},
      {"Method": "Sampson LDL-C", "Difference": 0.518, "Percentile": 48.5},
      {"Method": "Sampson LDL-C", "Difference": 0.523, "Percentile": 46.8},
      {"Method": "Sampson LDL-C", "Difference": 0.534, "Percentile": 43.5},
      {"Method": "Sampson LDL-C", "Difference": 0.545, "Percentile": 40.6},
      {"Method": "Sampson LDL-C", "Difference": 0.554, "Percentile": 37.3},
      {"Method": "Sampson LDL-C", "Difference": 0.562, "Percentile": 34.0},
      {"Method": "Sampson LDL-C", "Difference": 0.57, "Percentile": 29.8},
      {"Method": "Sampson LDL-C", "Difference": 0.577, "Percentile": 25.7},
      {"Method": "Sampson LDL-C", "Difference": 0.588, "Percentile": 21.9},
      {"Method": "Sampson LDL-C", "Difference": 0.598, "Percentile": 18.5},
      {"Method": "Sampson LDL-C", "Difference": 0.609, "Percentile": 15.2},
      {"Method": "Sampson LDL-C", "Difference": 0.619, "Percentile": 12.3},
      {"Method": "Sampson LDL-C", "Difference": 0.63, "Percentile": 10.1},
      {"Method": "Sampson LDL-C", "Difference": 0.64, "Percentile": 8.2},
      {"Method": "Sampson LDL-C", "Difference": 0.656, "Percentile": 5.8},
      {"Method": "Sampson LDL-C", "Difference": 0.672, "Percentile": 3.6},
      {"Method": "Sampson LDL-C", "Difference": 0.688, "Percentile": 2.4},
      {"Method": "Sampson LDL-C", "Difference": 0.704, "Percentile": 1.5},
      {"Method": "Sampson LDL-C", "Difference": 0.73, "Percentile": 0.6},
      {"Method": "Sampson LDL-C", "Difference": 0.757, "Percentile": 0.1}
    ]
  },
  "concat": [
    {
      "width": 472,
      "height": 344,
      "layer": [
        {
          "data": {"values": [{}]},
          "mark": {"type": "rule", "color": "#111111", "strokeWidth": 1.4},
          "encoding": {
            "x": {"datum": 0, "type": "quantitative", "scale": {"domain": [-1.26, 1.646], "nice": false, "zero": false}, "axis": null},
            "y": {"datum": 0, "type": "quantitative", "scale": {"domain": [-1.45, 51.45], "nice": false, "zero": false}, "axis": null},
            "y2": {"datum": 50}
          }
        },
        {
          "data": {"name": "A_Friedewald"},
          "mark": {"type": "line", "interpolate": "step-after", "strokeWidth": 1.8},
          "encoding": {
            "x": {"field": "Difference", "type": "quantitative", "scale": {"domain": [-1.26, 1.646], "nice": false, "zero": false},
              "axis": {"orient": "bottom", "values": [-1.2, -1, -0.8, -0.6, -0.4, -0.2, 0, 0.2, 0.4, 0.6, 0.8, 1, 1.2, 1.4, 1.6], "grid": true, "tickSize": -6, "labelPadding": 16, "labelFlush": false, "labelOverlap": false, "labelExpr": "replace(replace(format(datum.value, '.1f'), '.', ','), '−', '-')", "title": "Difference with Martin  LDL-C", "titlePadding": 6}},
            "y": {"field": "Percentile", "type": "quantitative", "scale": {"domain": [-1.45, 51.45], "nice": false, "zero": false},
              "axis": {"orient": "left", "values": [0, 10, 20, 30, 40, 50], "grid": true, "tickSize": -6, "labelPadding": 11, "labelFlush": false, "labelOverlap": false, "title": "Percentile", "titlePadding": 19}},
            "color": {"field": "Method", "type": "nominal", "scale": {"domain": ["Friedewald LDL-C", "Sampson LDL-C"], "range": ["#262b60", "#e0282c"]},
              "legend": {"orient": "none", "legendX": 281, "legendY": 10}},
            "order": {"value": null}
          }
        },
        {
          "data": {"name": "A_Sampson"},
          "mark": {"type": "line", "strokeWidth": 1.8},
          "encoding": {
            "x": {"field": "Difference", "type": "quantitative", "scale": {"domain": [-1.26, 1.646], "nice": false, "zero": false},
              "axis": {"orient": "bottom", "values": [-1.1, -0.9, -0.7, -0.5, -0.3, -0.1, 0.1, 0.3, 0.5, 0.7, 0.9, 1.1, 1.3, 1.5], "grid": false, "tickSize": -3, "labels": false, "domain": false, "title": null}},
            "y": {"field": "Percentile", "type": "quantitative", "scale": {"domain": [-1.45, 51.45], "nice": false, "zero": false},
              "axis": {"orient": "left", "values": [5, 15, 25, 35, 45], "grid": false, "tickSize": -3, "labels": false, "domain": false, "title": null}},
            "color": {"field": "Method", "type": "nominal", "scale": {"domain": ["Friedewald LDL-C", "Sampson LDL-C"], "range": ["#262b60", "#e0282c"]},
              "legend": {"orient": "none", "legendX": 281, "legendY": 10}},
            "order": {"value": null}
          }
        },
        {
          "data": {"values": [{"Panel": "A"}]},
          "mark": {"type": "text", "align": "left", "baseline": "alphabetic", "fontSize": 17, "fontWeight": "bold", "font": "Liberation Sans", "color": "#222222", "clip": false},
          "encoding": {
            "x": {"datum": -1.52, "type": "quantitative", "axis": null},
            "y": {"datum": 48.5, "type": "quantitative", "axis": null},
            "text": {"field": "Panel"}
          }
        }
      ],
      "resolve": {"axis": {"x": "independent", "y": "independent"}}
    },
    {
      "width": 472,
      "height": 344,
      "layer": [
        {
          "data": {"values": [{}]},
          "mark": {"type": "rule", "color": "#4a4a4a", "strokeWidth": 1.8},
          "encoding": {
            "x": {"datum": 0, "type": "quantitative", "scale": {"domain": [-1.26, 1.646], "nice": false, "zero": false}, "axis": null},
            "y": {"datum": 0, "type": "quantitative", "scale": {"domain": [-1.45, 51.45], "nice": false, "zero": false}, "axis": null},
            "y2": {"datum": 50}
          }
        },
        {
          "data": {"name": "B_Cordova"},
          "mark": {"type": "line", "interpolate": "step-after", "strokeWidth": 1.7},
          "encoding": {
            "x": {"field": "Difference", "type": "quantitative", "scale": {"domain": [-1.26, 1.646], "nice": false, "zero": false},
              "axis": {"orient": "bottom", "values": [-1.2, -1, -0.8, -0.6, -0.4, -0.2, 0, 0.2, 0.4, 0.6, 0.8, 1, 1.2, 1.4, 1.6], "grid": true, "tickSize": -6, "labelPadding": 16, "labelFlush": false, "labelOverlap": false, "labelExpr": "replace(replace(format(datum.value, '.1f'), '.', ','), '−', '-')", "title": "Difference with Martin  LDL-C", "titlePadding": 6}},
            "y": {"field": "Percentile", "type": "quantitative", "scale": {"domain": [-1.45, 51.45], "nice": false, "zero": false},
              "axis": {"orient": "left", "values": [0, 10, 20, 30, 40, 50], "grid": true, "tickSize": -6, "labelPadding": 11, "labelFlush": false, "labelOverlap": false, "title": "Percentile", "titlePadding": 19}},
            "color": {"field": "Method", "type": "nominal", "scale": {"domain": ["Cordova LDL-C", "Sampson LDL-C"], "range": ["#1f3a23", "#e0282c"]},
              "legend": {"orient": "none", "legendX": 289, "legendY": 10}},
            "order": {"value": null}
          }
        },
        {
          "data": {"name": "B_Sampson"},
          "mark": {"type": "line", "strokeWidth": 1.8},
          "encoding": {
            "x": {"field": "Difference", "type": "quantitative", "scale": {"domain": [-1.26, 1.646], "nice": false, "zero": false},
              "axis": {"orient": "bottom", "values": [-1.1, -0.9, -0.7, -0.5, -0.3, -0.1, 0.1, 0.3, 0.5, 0.7, 0.9, 1.1, 1.3, 1.5], "grid": false, "tickSize": -3, "labels": false, "domain": false, "title": null}},
            "y": {"field": "Percentile", "type": "quantitative", "scale": {"domain": [-1.45, 51.45], "nice": false, "zero": false},
              "axis": {"orient": "left", "values": [5, 15, 25, 35, 45], "grid": false, "tickSize": -3, "labels": false, "domain": false, "title": null}},
            "color": {"field": "Method", "type": "nominal", "scale": {"domain": ["Cordova LDL-C", "Sampson LDL-C"], "range": ["#1f3a23", "#e0282c"]},
              "legend": {"orient": "none", "legendX": 289, "legendY": 10}},
            "order": {"value": null}
          }
        },
        {
          "data": {"values": [{"Panel": "B"}]},
          "mark": {"type": "text", "align": "left", "baseline": "alphabetic", "fontSize": 17, "fontWeight": "bold", "font": "Liberation Sans", "color": "#222222", "clip": false},
          "encoding": {
            "x": {"datum": -1.49, "type": "quantitative", "axis": null},
            "y": {"datum": 48.5, "type": "quantitative", "axis": null},
            "text": {"field": "Panel"}
          }
        }
      ],
      "resolve": {"axis": {"x": "independent", "y": "independent"}}
    },
    {
      "width": 472,
      "height": 344,
      "layer": [
        {
          "data": {"name": "C_Friedewald"},
          "mark": {"type": "line", "interpolate": "step-after", "strokeWidth": 1.8},
          "encoding": {
            "x": {"field": "Difference", "type": "quantitative", "scale": {"domain": [-1.26, 1.646], "nice": false, "zero": false},
              "axis": {"orient": "bottom", "values": [-1.2, -1, -0.8, -0.6, -0.4, -0.2, 0, 0.2, 0.4, 0.6, 0.8, 1, 1.2, 1.4, 1.6], "grid": true, "tickSize": -6, "labelPadding": 16, "labelFlush": false, "labelOverlap": false, "labelExpr": "replace(replace(format(datum.value, '.1f'), '.', ','), '−', '-')", "title": "Difference with Martin  LDL-C", "titlePadding": 6}},
            "y": {"field": "Percentile", "type": "quantitative", "scale": {"domain": [-1.45, 51.45], "nice": false, "zero": false},
              "axis": {"orient": "left", "values": [0, 10, 20, 30, 40, 50], "grid": true, "tickSize": -6, "labelPadding": 11, "labelFlush": false, "labelOverlap": false, "title": "Percentile", "titlePadding": 19}},
            "color": {"field": "Method", "type": "nominal", "scale": {"domain": ["Friedewald LDL-C", "Sampson LDL-C"], "range": ["#262b60", "#e0282c"]},
              "legend": {"orient": "none", "legendX": 15, "legendY": 10}},
            "order": {"value": null}
          }
        },
        {
          "data": {"name": "C_Sampson"},
          "mark": {"type": "line", "strokeWidth": 1.8},
          "encoding": {
            "x": {"field": "Difference", "type": "quantitative", "scale": {"domain": [-1.26, 1.646], "nice": false, "zero": false},
              "axis": {"orient": "bottom", "values": [-1.1, -0.9, -0.7, -0.5, -0.3, -0.1, 0.1, 0.3, 0.5, 0.7, 0.9, 1.1, 1.3, 1.5], "grid": false, "tickSize": -3, "labels": false, "domain": false, "title": null}},
            "y": {"field": "Percentile", "type": "quantitative", "scale": {"domain": [-1.45, 51.45], "nice": false, "zero": false},
              "axis": {"orient": "left", "values": [5, 15, 25, 35, 45], "grid": false, "tickSize": -3, "labels": false, "domain": false, "title": null}},
            "color": {"field": "Method", "type": "nominal", "scale": {"domain": ["Friedewald LDL-C", "Sampson LDL-C"], "range": ["#262b60", "#e0282c"]},
              "legend": {"orient": "none", "legendX": 15, "legendY": 10}},
            "order": {"value": null}
          }
        },
        {
          "data": {"values": [{"Panel": "C"}]},
          "mark": {"type": "text", "align": "left", "baseline": "alphabetic", "fontSize": 17, "fontWeight": "bold", "font": "Liberation Sans", "color": "#222222", "clip": false},
          "encoding": {
            "x": {"datum": -1.52, "type": "quantitative", "axis": null},
            "y": {"datum": 48.5, "type": "quantitative", "axis": null},
            "text": {"field": "Panel"}
          }
        }
      ],
      "resolve": {"axis": {"x": "independent", "y": "independent"}}
    },
    {
      "width": 472,
      "height": 344,
      "layer": [
        {
          "data": {"name": "D_Cordova"},
          "mark": {"type": "line", "interpolate": "step-after", "strokeWidth": 1.7},
          "encoding": {
            "x": {"field": "Difference", "type": "quantitative", "scale": {"domain": [-1.26, 1.646], "nice": false, "zero": false},
              "axis": {"orient": "bottom", "values": [-1.2, -1, -0.8, -0.6, -0.4, -0.2, 0, 0.2, 0.4, 0.6, 0.8, 1, 1.2, 1.4, 1.6], "grid": true, "tickSize": -6, "labelPadding": 16, "labelFlush": false, "labelOverlap": false, "labelExpr": "replace(replace(format(datum.value, '.1f'), '.', ','), '−', '-')", "title": "Difference with Martin  LDL-C", "titlePadding": 6}},
            "y": {"field": "Percentile", "type": "quantitative", "scale": {"domain": [-1.45, 51.45], "nice": false, "zero": false},
              "axis": {"orient": "left", "values": [0, 10, 20, 30, 40, 50], "grid": true, "tickSize": -6, "labelPadding": 11, "labelFlush": false, "labelOverlap": false, "title": "Percentile", "titlePadding": 19}},
            "color": {"field": "Method", "type": "nominal", "scale": {"domain": ["Cordova LDL-C", "Sampson LDL-C"], "range": ["#1f3a23", "#e0282c"]},
              "legend": {"orient": "none", "legendX": 289, "legendY": 12}},
            "order": {"value": null}
          }
        },
        {
          "data": {"name": "D_Sampson"},
          "mark": {"type": "line", "strokeWidth": 1.8},
          "encoding": {
            "x": {"field": "Difference", "type": "quantitative", "scale": {"domain": [-1.26, 1.646], "nice": false, "zero": false},
              "axis": {"orient": "bottom", "values": [-1.1, -0.9, -0.7, -0.5, -0.3, -0.1, 0.1, 0.3, 0.5, 0.7, 0.9, 1.1, 1.3, 1.5], "grid": false, "tickSize": -3, "labels": false, "domain": false, "title": null}},
            "y": {"field": "Percentile", "type": "quantitative", "scale": {"domain": [-1.45, 51.45], "nice": false, "zero": false},
              "axis": {"orient": "left", "values": [5, 15, 25, 35, 45], "grid": false, "tickSize": -3, "labels": false, "domain": false, "title": null}},
            "color": {"field": "Method", "type": "nominal", "scale": {"domain": ["Cordova LDL-C", "Sampson LDL-C"], "range": ["#1f3a23", "#e0282c"]},
              "legend": {"orient": "none", "legendX": 289, "legendY": 12}},
            "order": {"value": null}
          }
        },
        {
          "data": {"values": [{"Panel": "D"}]},
          "mark": {"type": "text", "align": "left", "baseline": "alphabetic", "fontSize": 17, "fontWeight": "bold", "font": "Liberation Sans", "color": "#222222", "clip": false},
          "encoding": {
            "x": {"datum": -1.49, "type": "quantitative", "axis": null},
            "y": {"datum": 48.5, "type": "quantitative", "axis": null},
            "text": {"field": "Panel"}
          }
        }
      ],
      "resolve": {"axis": {"x": "independent", "y": "independent"}}
    }
  ],
  "resolve": {"scale": {"color": "independent"}, "legend": {"color": "independent"}},
  "config": {
    "font": "Liberation Sans",
    "view": {"stroke": "#3c3c3c", "strokeWidth": 2},
    "axis": {
      "labelFont": "Liberation Sans", "labelFontSize": 12, "labelColor": "#4a4a4a",
      "titleFont": "Liberation Sans", "titleFontSize": 13.5, "titleColor": "#4a4a4a", "titleFontWeight": "normal",
      "domainColor": "#3c3c3c", "domainWidth": 2,
      "tickColor": "#3c3c3c", "tickWidth": 1.5,
      "gridColor": "#d4d4d4", "gridWidth": 1
    },
    "legend": {
      "title": null,
      "symbolType": "M-2.92,0 L2.92,0 M2.92,0 A0.54,0.54 0 1,1 4,0 A0.54,0.54 0 1,1 2.92,0 M-4,0 A0.54,0.54 0 1,1 -2.92,0 A0.54,0.54 0 1,1 -4,0",
      "symbolSize": 86,
      "symbolStrokeWidth": 1.2,
      "symbolFillColor": "transparent",
      "symbolOffset": 11.75,
      "labelOffset": 36.5,
      "labelFont": "Liberation Sans",
      "labelFontSize": 13.5,
      "labelColor": "#333333",
      "labelExpr": "datum.label + '\u00a0\u00a0\u00a0'",
      "padding": 5.5,
      "rowPadding": 4,
      "strokeColor": "#333333",
      "strokeWidth": 1.5,
      "fillColor": "white"
    }
  }
}
